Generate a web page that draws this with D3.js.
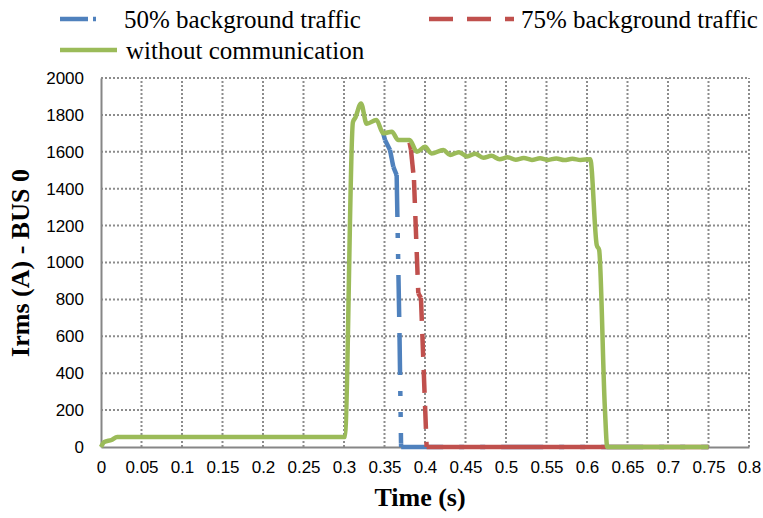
<!DOCTYPE html>
<html><head><meta charset="utf-8">
<script src="https://cdn.jsdelivr.net/npm/d3@7"></script>
<style>body{margin:0;background:#fff}svg{display:block}</style>
</head><body>
<svg id="chart" width="763" height="518"></svg>
<script>
// ---- data ----
const seriesNames = ["50% background traffic", "75% background traffic", "without communication"];
const xTicks = [0,0.05,0.1,0.15,0.2,0.25,0.3,0.35,0.4,0.45,0.5,0.55,0.6,0.65,0.7,0.75,0.8];
const xTickLabels = ["0","0.05","0.1","0.15","0.2","0.25","0.3","0.35","0.4","0.45","0.5","0.55","0.6","0.65","0.7","0.75","0.8"];
const yTicks = [0,200,400,600,800,1000,1200,1400,1600,1800,2000];

// without communication (time s, Irms A)
const greenT = [0,0.004,0.013,0.02,0.3,0.301,0.311,0.314,0.321,0.328,0.340,0.3485,0.359,0.367,0.381,0.390,0.400,0.408,0.4226,0.431,0.442,0.452,0.462,0.472,0.482,0.492,0.502,0.512,0.522,0.532,0.542,0.552,0.562,0.572,0.582,0.592,0.604,0.612,0.615,0.622,0.625,0.75];
const greenV = [0,27,38,54,54,55,1760,1785,1862,1752,1772,1700,1709,1664,1664,1600,1627,1591,1610,1583,1598,1575,1590,1568,1578,1560,1570,1557,1566,1556,1565,1556,1564,1555,1562,1556,1560,1095,1068,217,0,0];
// 50% background traffic
const blueT = [0.3485,0.3506,0.3568,0.3609,0.365,0.3685,0.3704,0.3706,0.75];
const blueV = [1700,1664,1610,1518,1474,618,20,0,0];
// 75% background traffic
const redT = [0.381,0.3827,0.3864,0.3917,0.395,0.402,0.75];
const redV = [1650,1610,1447,833,808,0,0];

// ---- chart ----
const svg = d3.select("#chart");
const x = d3.scaleLinear().domain([0,0.8]).range([101,749]);
const y = d3.scaleLinear().domain([0,2000]).range([447,78]);

const colors = ["#4F81BD","#C0504D","#9BBB59"];
const dashes = ["42,16,5,16,5,16","23,13",null];
const serif = "'Liberation Serif','Times New Roman',serif";
const sans = "'Liberation Sans',Arial,sans-serif";

// grid
const g = svg.append("g");
g.selectAll(".hg").data(yTicks.filter(d=>d>0)).join("line")
  .attr("x1",x(0)).attr("x2",x(0.8)).attr("y1",d=>y(d)).attr("y2",d=>y(d))
  .attr("stroke","#8c8c8c").attr("stroke-width",2).attr("stroke-dasharray","2,2");
g.selectAll(".vg").data(xTicks.filter(d=>d>0)).join("line")
  .attr("x1",d=>x(d)).attr("x2",d=>x(d)).attr("y1",y(0)).attr("y2",y(2000))
  .attr("stroke","#8c8c8c").attr("stroke-width",2).attr("stroke-dasharray","2,2");

// axes
const xAxis = d3.axisBottom(x).tickValues(xTicks).tickFormat((d,i)=>xTickLabels[i]).tickSize(0).tickPadding(14);
const yAxis = d3.axisLeft(y).tickValues(yTicks).tickFormat(d3.format("d")).tickSize(0).tickPadding(17);
const gx = svg.append("g").attr("transform",`translate(0,${y(0)})`).call(xAxis);
const gy = svg.append("g").attr("transform",`translate(${x(0)},0)`).call(yAxis);
[gx,gy].forEach(a=>{
  a.select(".domain").attr("stroke","#868686").attr("stroke-width",2);
  a.selectAll("text").attr("font-family",sans).attr("font-size",17).attr("fill","#000");
});

// lines: dashed series restart their pattern at each data point (as the source does);
// flat zero-level tails are drawn solid.
const mk = (T,V)=>T.map((t,i)=>[t,V[i]]);
const data = [mk(blueT,blueV), mk(redT,redV), mk(greenT,greenV)];
const curve = d3.line().x(d=>x(d[0])).y(d=>y(d[1])).curve(d3.curveMonotoneX);
const lin = d3.line().x(d=>x(d[0])).y(d=>y(d[1]));
data.forEach((d,i)=>{
  if (!dashes[i]) {
    svg.append("path").attr("d",curve(d)).attr("fill","none")
      .attr("stroke",colors[i]).attr("stroke-width",4.5).attr("stroke-linejoin","round");
    return;
  }
  const segs = d3.pairs(d);
  svg.append("g").selectAll("path").data(segs).join("path")
    .attr("d",s=>lin(s)).attr("fill","none")
    .attr("stroke",colors[i]).attr("stroke-width",4.5)
    .attr("stroke-dasharray",s=>(s[0][1]===0 && s[1][1]===0 && i===1) ? null : dashes[i]);
});

// axis titles
svg.append("text").attr("x",420).attr("y",506).attr("text-anchor","middle")
  .attr("font-family",serif).attr("font-weight","bold").attr("font-size",26).text("Time (s)");
svg.append("text").attr("transform","translate(29,263) rotate(-90)").attr("text-anchor","middle")
  .attr("font-family",serif).attr("font-weight","bold").attr("font-size",26).text("Irms (A) - BUS 0");

// legend
const leg = [
  {x1:60,x2:97,y:19,tx:124,ty:28,dash:"28,5,3,20"},
  {x1:429,x2:514,y:19,tx:521,ty:28,dash:"24,14"},
  {x1:60,x2:117,y:50,tx:126,ty:59,dash:null}
];
leg.forEach((l,i)=>{
  svg.append("line").attr("x1",l.x1).attr("x2",l.x2).attr("y1",l.y).attr("y2",l.y)
    .attr("stroke",colors[i]).attr("stroke-width",4.5).attr("stroke-dasharray",l.dash);
  svg.append("text").attr("x",l.tx).attr("y",l.ty).attr("font-family",serif)
    .attr("font-size",25).attr("fill","#000").text(seriesNames[i]);
});
</script>
</body></html>
